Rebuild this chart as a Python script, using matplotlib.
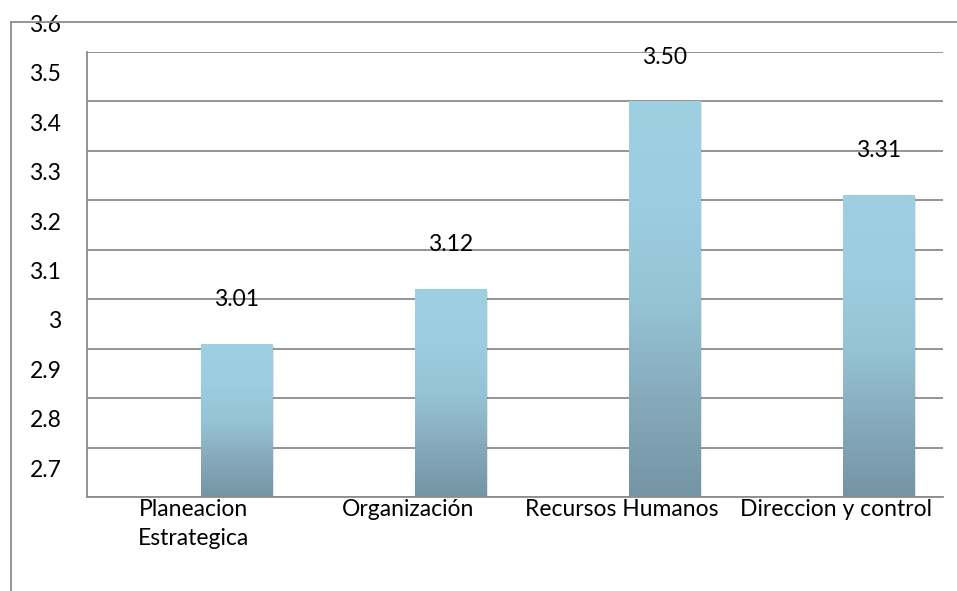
import matplotlib
matplotlib.use("Agg")
import matplotlib.pyplot as plt
import numpy as np
from matplotlib.colors import LinearSegmentedColormap
from matplotlib.lines import Line2D

categories = ["Planeacion\nEstrategica", "Organización", "Recursos Humanos", "Direccion y control"]
values = [3.01, 3.12, 3.50, 3.31]
value_labels = ["3.01", "3.12", "3.50", "3.31"]
grid_values = [2.7, 2.8, 2.9, 3.0, 3.1, 3.2, 3.3, 3.4, 3.5, 3.6]
tick_labels = ["2.7", "2.8", "2.9", "3", "3.1", "3.2", "3.3", "3.4", "3.5", "3.6"]

plt.rcParams['font.family'] = ['Lato', 'DejaVu Sans']
FS = 16.5

fig = plt.figure(figsize=(9.57, 5.91), dpi=100)
ax = fig.add_axes([87/957, 1-497/591, (943-87)/957, (497-52)/591])

ymin, ymax = 2.7, 3.6
grid_col = "#8c8c8c"
for g in grid_values:
    ax.axhline(g, color=grid_col, lw=1.3, zorder=0)

x = np.arange(len(values))
bars = ax.bar(x, [v - ymin for v in values], bottom=ymin, width=0.335,
              color="none", edgecolor="none", zorder=2)

cmap = LinearSegmentedColormap.from_list("g", ["#7594a4", "#86aabc", "#96c4d7", "#9dcde0", "#9fd0e2"])
grad = np.linspace(0, 1, 256).reshape(-1, 1)
for b in bars:
    x0, w = b.get_x(), b.get_width()
    y0, h = b.get_y(), b.get_height()
    # soft shadow
    ax.add_patch(plt.Rectangle((x0 + 0.008, y0), w, h - 0.004, color="#000000",
                               alpha=0.10, lw=0, zorder=1.5))
    im = ax.imshow(grad, extent=(x0, x0 + w, y0, y0 + h), origin="lower",
                   cmap=cmap, aspect="auto", zorder=2.5)
    im.set_clip_path(b)

ax.set_xlim(-0.70, 3.30)
ax.set_ylim(ymin, ymax)

for xi, v, lab in zip(x, values, value_labels):
    ax.annotate(lab, (xi, v), xytext=(0, 32), textcoords="offset points",
                ha="center", va="center", fontsize=FS, color="#000000", zorder=4)

# y tick labels (as rendered in the original, offset from the gridlines)
ax.set_yticks([])
ax.set_xticks([])
ytrans = ax.get_yaxis_transform()
for g, lab in zip(grid_values, tick_labels):
    ax.text(-0.03, g + 0.054, lab, transform=ytrans, ha="right", va="center",
            fontsize=FS, clip_on=False)

# category labels centered on category slots
for i, c in enumerate(categories):
    ax.text(i - 0.2, ymin - 0.004, c, ha="center", va="top", fontsize=FS,
            linespacing=1.5, clip_on=False)

for s in ["top", "right"]:
    ax.spines[s].set_visible(False)
ax.spines["left"].set_color(grid_col)
ax.spines["bottom"].set_color(grid_col)
ax.spines["left"].set_linewidth(1.3)
ax.spines["bottom"].set_linewidth(1.3)

# outer chart border
fig.add_artist(Line2D([11/957, 1.0], [1-22/591, 1-22/591], color=grid_col, lw=1.3,
                      transform=fig.transFigure))
fig.add_artist(Line2D([11/957, 11/957], [0, 1-22/591], color=grid_col, lw=1.3,
                      transform=fig.transFigure))

fig.savefig("out.png", dpi=100)
